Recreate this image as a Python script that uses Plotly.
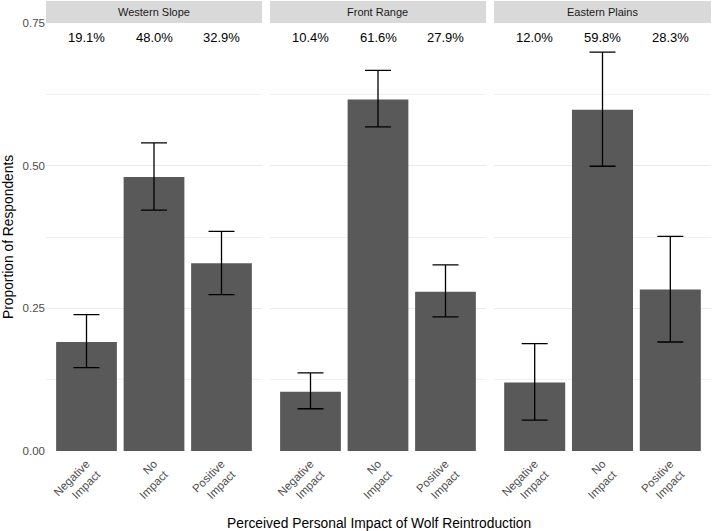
import plotly.graph_objects as go

regions = ["Western Slope", "Front Range", "Eastern Plains"]
categories = ["Negative<br>Impact", "No<br>Impact", "Positive<br>Impact"]
cat_pos = [1, 2, 3]

props = {
    "Western Slope": [0.191, 0.480, 0.329],
    "Front Range": [0.104, 0.616, 0.279],
    "Eastern Plains": [0.120, 0.598, 0.283],
}
lower = {
    "Western Slope": [0.146, 0.422, 0.274],
    "Front Range": [0.074, 0.568, 0.235],
    "Eastern Plains": [0.054, 0.499, 0.191],
}
upper = {
    "Western Slope": [0.239, 0.540, 0.385],
    "Front Range": [0.137, 0.667, 0.326],
    "Eastern Plains": [0.188, 0.699, 0.376],
}
pct_labels = {
    "Western Slope": ["19.1%", "48.0%", "32.9%"],
    "Front Range": ["10.4%", "61.6%", "27.9%"],
    "Eastern Plains": ["12.0%", "59.8%", "28.3%"],
}
y_ticks = [0, 0.25, 0.5, 0.75]
y_ticklabels = ["0.00", "0.25", "0.50", "0.75"]
y_minor = [0.125, 0.375, 0.625]

FONT = "Liberation Sans, Arial, sans-serif"
W, H = 712, 531
ML, MR, MT, MB = 46, 1, 23, 80
PW = W - ML - MR
PH = H - MT - MB

px_domains = [(46, 262), (270, 486), (494, 711)]
domains = [((a - ML) / PW, (b - ML) / PW) for a, b in px_domains]

fig = go.Figure()
layout = dict(
    width=W, height=H,
    margin=dict(l=ML, r=MR, t=MT, b=MB, pad=0),
    paper_bgcolor="white", plot_bgcolor="white",
    showlegend=False,
    font=dict(family=FONT, color="#4D4D4D"),
    annotations=[], shapes=[],
)

for i, reg in enumerate(regions):
    sfx = "" if i == 0 else str(i + 1)
    xa, ya = "x" + sfx, "y" + sfx
    p = props[reg]
    fig.add_trace(go.Bar(
        x=cat_pos, y=p, width=0.9,
        marker=dict(color="#595959", line=dict(width=0)),
        error_y=dict(type="data", symmetric=False,
                     array=[u - v for u, v in zip(upper[reg], p)],
                     arrayminus=[v - l for v, l in zip(p, lower[reg])],
                     color="black", thickness=1.3, width=13),
        xaxis=xa, yaxis=ya, hoverinfo="skip",
    ))
    layout["xaxis" + sfx] = dict(
        domain=list(domains[i]), anchor=ya, range=[0.4, 3.6],
        tickvals=cat_pos, ticktext=categories, tickangle=-45,
        showgrid=False, zeroline=False, showline=False, ticks="",
        automargin=False, ticklabelstandoff=3,
        tickfont=dict(size=11.5, color="#4D4D4D", family=FONT),
    )
    yd = dict(
        domain=[0, 1], anchor=xa, range=[0, 0.75],
        tickvals=y_ticks, ticktext=y_ticklabels,
        showgrid=True, gridcolor="#EBEBEB", gridwidth=1,
        zeroline=False, showline=False, ticks="",
        automargin=False,
        minor=dict(tickvals=y_minor, showgrid=True, gridcolor="#F0F0F0", gridwidth=0.6),
        tickfont=dict(size=11.5, color="#4D4D4D", family=FONT),
        showticklabels=(i == 0),
    )
    if i > 0:
        yd["matches"] = "y"
    layout["yaxis" + sfx] = yd

    # strip
    layout["shapes"].append(dict(
        type="rect", xref="paper", yref="paper",
        x0=domains[i][0], x1=domains[i][1], y0=1.0, y1=1 + 22 / PH,
        fillcolor="#D9D9D9", line=dict(width=0), layer="below",
    ))
    layout["annotations"].append(dict(
        x=(domains[i][0] + domains[i][1]) / 2, y=1 + 11.5 / PH,
        xref="paper", yref="paper", text=reg, showarrow=False,
        font=dict(size=11, color="#1A1A1A", family=FONT),
        xanchor="center", yanchor="middle",
    ))
    for xp, lab in zip(cat_pos, pct_labels[reg]):
        layout["annotations"].append(dict(
            x=xp, y=0.725, xref=xa, yref=ya, text=lab, showarrow=False,
            font=dict(size=13, color="black", family=FONT),
            xanchor="center", yanchor="middle",
        ))

layout["annotations"].append(dict(
    x=(domains[0][0] + domains[2][1]) / 2, y=-(523 - (MT + PH)) / PH,
    xref="paper", yref="paper", text="Perceived Personal Impact of Wolf Reintroduction",
    showarrow=False, font=dict(size=13.8, color="black", family=FONT),
    xanchor="center", yanchor="middle",
))
layout["annotations"].append(dict(
    x=-38 / PW, y=0.5, xref="paper", yref="paper", text="Proportion of Respondents",
    showarrow=False, textangle=-90, font=dict(size=13.8, color="black", family=FONT),
    xanchor="center", yanchor="middle",
))

fig.update_layout(**layout)
fig.write_html("out.html", config={"displayModeBar": False},
               post_script="document.body.style.margin='0';")
